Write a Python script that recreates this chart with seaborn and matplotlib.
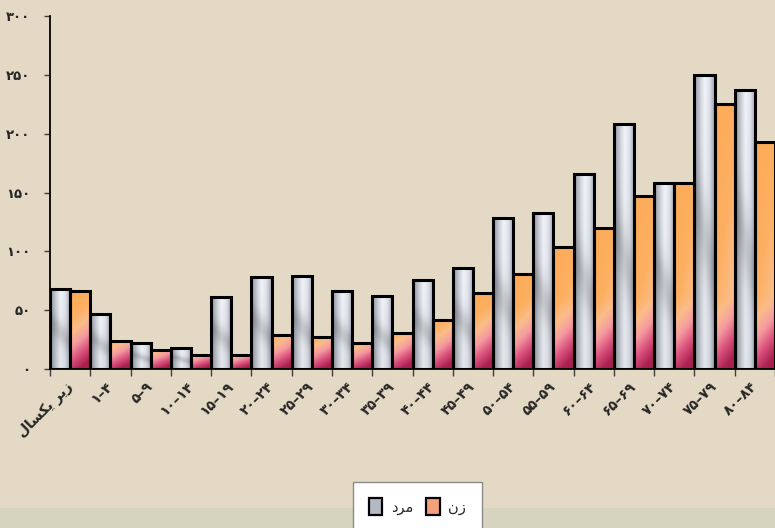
import numpy as np
import pandas as pd
import matplotlib
matplotlib.use("Agg")
import matplotlib.pyplot as plt
from matplotlib.patches import Patch, Rectangle
from matplotlib.colors import LinearSegmentedColormap
import seaborn as sns

# ── data ─────────────────────────────────────
# age groups (Persian digits, Arabic text pre-shaped in visual order)
age_groups = [
    "\uFEDD\uFE8E\uFEB4\uFEDC\uFEF3 \uFEAE\uFEF3\uFEAF",   # زیر یکسال
    "۱–۴", "۵–۹", "۱۰–۱۴", "۱۵–۱۹", "۲۰–۲۴", "۲۵–۲۹", "۳۰–۳۴", "۳۵–۳۹",
    "۴۰–۴۴", "۴۵–۴۹", "۵۰–۵۴", "۵۵–۵۹", "۶۰–۶۴", "۶۵–۶۹", "۷۰–۷۴",
    "۷۵–۷۹", "۸۰–۸۴",
]
male = [68, 47, 22, 18, 61, 78, 79, 66, 62, 76, 86, 128, 133, 166, 208, 158, 250, 237]
female = [66, 24, 16, 12, 12, 29, 27, 22, 31, 42, 65, 81, 104, 120, 147, 158, 225, 193]

label_male = "\uFEA9\uFEAE\uFEE3"    # مرد
label_female = "\uFEE5\uFEAF"        # زن

y_ticks = [0, 50, 100, 150, 200, 250, 300]

def fa_digits(n):
    return str(n).translate(str.maketrans("0123456789", "۰۱۲۳۴۵۶۷۸۹"))

df = pd.DataFrame({
    "group": age_groups * 2,
    "sex": ["male"] * len(male) + ["female"] * len(female),
    "value": male + female,
})

# ── style ────────────────────────────────────
sns.set_style("white")
plt.rcParams["font.family"] = ["DejaVu Sans"]
bg = "#E4D9C4"

fig = plt.figure(figsize=(7.75, 5.28), dpi=100, facecolor=bg)
fig.patches.append(Rectangle((0, 0), 1, 20 / 528, transform=fig.transFigure,
                             facecolor="#D6D4BE", edgecolor="none", zorder=0))
ax = fig.add_axes([50 / 775, 1 - 369 / 528, 725 / 775, 353 / 528])
ax.set_facecolor("none")

sns.barplot(data=df, x="group", y="value", hue="sex", order=age_groups,
            hue_order=["male", "female"], palette=["#c0c5cc", "#f6a878"],
            width=1.0, edgecolor="black", linewidth=2.2, legend=False, ax=ax)

# ── gradient fills clipped to each bar ───────
male_cmap = LinearSegmentedColormap.from_list(
    "chrome", ["#80868f", "#b9bec6", "#e4e7ec", "#d3d6de", "#9196a4"])
female_cmap = LinearSegmentedColormap.from_list(
    "warm", ["#a8204f", "#d9507c", "#f59aa0", "#fbbd8a", "#fdb062", "#fcac5a"])

for container, kind in zip(ax.containers, ["male", "female"]):
    for bar in container:
        x0, w, h = bar.get_x(), bar.get_width(), bar.get_height()
        nx, ny = 24, 80
        u = np.linspace(0, 1, nx)
        rel = np.linspace(1, 0, ny)
        U, R = np.meshgrid(u, rel)
        if kind == "male":
            rgb = male_cmap(U)[..., :3]
            shade = 1 - 0.16 * np.exp(-((R - 0.45 + 0.25 * (U - 0.5)) / 0.14) ** 2)
            rgb = np.clip(rgb * shade[..., None] + 0.05 * R[..., None], 0, 1)
        else:
            V = R * h
            m = 0.55 * np.clip(V / 60, 0, 1) + 0.45 * R + 0.25 * (0.5 - U)
            rgb = female_cmap(np.clip(m, 0, 1))[..., :3]
        img = ax.imshow(rgb, extent=[x0, x0 + w, 0, h], origin="upper",
                        aspect="auto", interpolation="bilinear", zorder=2)
        img.set_clip_path(bar)
        bar.set_facecolor("none")
        bar.set_zorder(3)

# ── axes ─────────────────────────────────────
n = len(age_groups)
ax.set_xlim(-0.5, n - 0.5)
ax.set_ylim(0, 300)
ax.set_xlabel("")
ax.set_ylabel("")

ax.set_xticks(np.arange(n + 1) - 0.5)
ax.set_xticklabels([])
ax.set_xticks(np.arange(n), minor=True)
ax.set_xticklabels(age_groups, minor=True, rotation=45, ha="right",
                   va="center", rotation_mode="anchor",
                   fontsize=10, fontweight="bold")
ax.tick_params(axis="x", which="major", length=5, width=1, color="#404040",
               direction="out", bottom=True)
ax.tick_params(axis="x", which="minor", length=0, pad=11, bottom=True)

ax.set_yticks(y_ticks)
ax.set_yticklabels([fa_digits(t) for t in y_ticks], fontsize=9.5,
                   fontweight="bold")
ax.tick_params(axis="y", length=4.5, width=1, color="#404040", pad=9.5, left=True)

for side in ["top", "right"]:
    ax.spines[side].set_visible(False)
for side in ["left", "bottom"]:
    ax.spines[side].set_color("black")
    ax.spines[side].set_linewidth(1.3)
ax.spines["bottom"].set_zorder(4)

# ── legend ───────────────────────────────────
handles = [Patch(facecolor="#b4bac3", edgecolor="black", linewidth=1.6),
           Patch(facecolor="#f4a078", edgecolor="black", linewidth=1.6)]
leg = fig.legend(handles, [label_male, label_female], loc="upper left",
                 bbox_to_anchor=(353 / 775, 1 - 482 / 528), ncol=2,
                 frameon=True, fancybox=False, framealpha=1,
                 facecolor="white", edgecolor="#8a8a8a", fontsize=10.5,
                 handlelength=0.9, handleheight=1.4, handletextpad=0.6,
                 columnspacing=0.9, borderpad=1.1, borderaxespad=0)
leg.get_frame().set_linewidth(1.0)

fig.savefig("out.png", dpi=100, facecolor=bg)
